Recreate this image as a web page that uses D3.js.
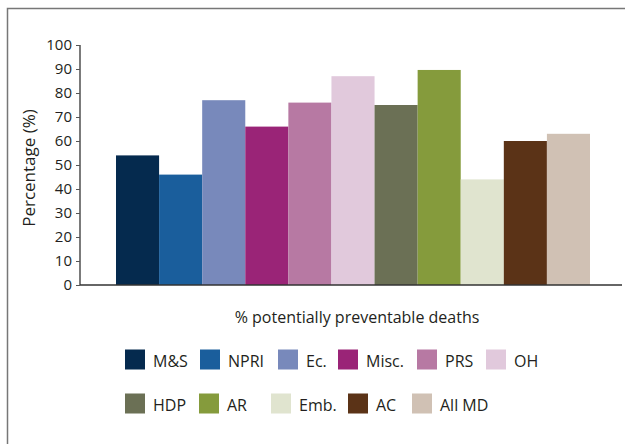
<!DOCTYPE html>
<html>
<head>
<meta charset="utf-8">
<script src="https://cdn.jsdelivr.net/npm/d3@7"></script>
<style>
  html, body { margin: 0; padding: 0; background: #fff; }
  svg { display: block; }
  text { font-family: "Open Sans", Lato, sans-serif; fill: #231f20; }
</style>
</head>
<body>
<svg id="chart" width="625" height="444"></svg>
<script>
const categories = ["M&S", "NPRI", "Ec.", "Misc.", "PRS", "OH", "HDP", "AR", "Emb.", "AC", "All MD"];
const values = [54, 46, 77, 66, 76, 87, 75, 89.6, 44, 60, 63];
const colors = ["#052a4e", "#1a5e9c", "#7889bb", "#9a2477", "#b779a3", "#e1c9dc",
                "#6b7055", "#859b3c", "#e0e4cf", "#5b3317", "#d0c1b4"];
const yTicks = [0, 10, 20, 30, 40, 50, 60, 70, 80, 90, 100];
const yTitle = "Percentage (%)";
const xTitle = "% potentially preventable deaths";

const FONT = "'Open Sans', Lato, sans-serif";
const svg = d3.select("#chart");

// outer frame (extends past the visible area on right/bottom)
svg.append("rect")
  .attr("x", 7.5).attr("y", 8.5)
  .attr("width", 640).attr("height", 460)
  .attr("fill", "none").attr("stroke", "#777").attr("stroke-width", 1.5);

const y = d3.scaleLinear().domain([0, 100]).range([285, 45]);
const x = d3.scaleBand().domain(categories).range([116, 590]).padding(0);

// bars
svg.append("g").selectAll("rect")
  .data(categories)
  .join("rect")
  .attr("x", d => x(d))
  .attr("y", (d, i) => y(values[i]))
  .attr("width", x.bandwidth())
  .attr("height", (d, i) => y(0) - y(values[i]))
  .attr("fill", (d, i) => colors[i]);

// y axis
const yAxis = svg.append("g")
  .attr("transform", "translate(80,0)")
  .call(d3.axisLeft(y).tickValues(yTicks).tickSize(4).tickPadding(4));
yAxis.select(".domain").attr("stroke", "#333").attr("stroke-width", 1.3)
  .attr("d", `M0,${y(100)}V${y(0)}`);
yAxis.selectAll(".tick line").attr("stroke", "#555");
yAxis.selectAll(".tick text")
  .style("font-family", FONT)
  .style("font-size", "15px").attr("fill", "#231f20");

// x axis baseline
svg.append("line")
  .attr("x1", 80).attr("x2", 622)
  .attr("y1", y(0)).attr("y2", y(0))
  .attr("stroke", "#333").attr("stroke-width", 1.6);

// axis titles
svg.append("text")
  .attr("transform", `translate(35,168) rotate(-90)`)
  .attr("text-anchor", "middle")
  .style("font-size", "17px")
  .text(yTitle);

svg.append("text")
  .attr("x", 357).attr("y", 323)
  .attr("text-anchor", "middle")
  .style("font-size", "16px")
  .text(xTitle);

// legend
const legendRows = [
  { y: 349.5, xs: [125, 200, 278, 338, 417, 486] },
  { y: 393.5, xs: [125, 199, 271, 348, 412] }
];
let k = 0;
legendRows.forEach(row => {
  row.xs.forEach(lx => {
    const i = k++;
    const g = svg.append("g").attr("transform", `translate(${lx},${row.y})`);
    g.append("rect").attr("width", 20).attr("height", 20).attr("fill", colors[i]);
    g.append("text")
      .attr("x", 28).attr("y", 17)
      .style("font-size", "16px")
      .text(categories[i]);
  });
});
</script>
</body>
</html>
